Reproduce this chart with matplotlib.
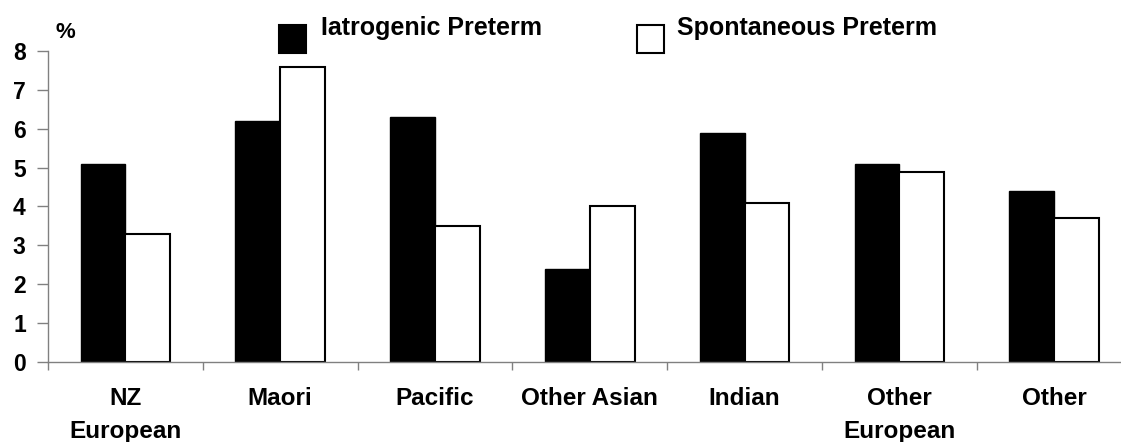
import numpy as np
import matplotlib.pyplot as plt
from matplotlib.patches import Rectangle

plt.rcParams['font.family'] = ['Liberation Sans', 'DejaVu Sans']
plt.rcParams['font.weight'] = 'bold'

groups = ['NZ\nEuropean', 'Maori', 'Pacific', 'Other Asian', 'Indian',
          'Other\nEuropean', 'Other']
iatrogenic = [5.1, 6.2, 6.3, 2.4, 5.9, 5.1, 4.4]
spontaneous = [3.3, 7.6, 3.5, 4.0, 4.1, 4.9, 3.7]
series_names = ['Iatrogenic Preterm', 'Spontaneous Preterm']

W, H = 1121, 442
fig = plt.figure(figsize=(W / 100, H / 100), dpi=100)
# axis runs a little past the right edge of the figure
ax = fig.add_axes([48 / W, 80 / H, 7 * 154.8 / W, 311 / H])

x = np.arange(len(groups))
bw = 0.29
ax.bar(x - bw / 2, iatrogenic, bw, color='black', edgecolor='black', linewidth=1.0)
ax.bar(x + bw / 2, spontaneous, bw, color='white', edgecolor='black', linewidth=1.5)

ax.set_xlim(-0.5, len(groups) - 0.5)
ax.set_ylim(0, 8)
ax.set_yticks(range(0, 9))
ax.set_xticks(x)
ax.set_xticklabels(groups, fontsize=17.5, fontweight='bold', linespacing=1.55)
ax.set_xticks(np.arange(-0.5, len(groups), 1), minor=True)
ax.tick_params(axis='x', which='major', length=0, pad=18)
ax.tick_params(axis='x', which='minor', length=6, width=1, color='#808080')
ax.tick_params(axis='y', length=8, width=1, color='#808080', pad=8, labelsize=16.5)
for t in ax.get_yticklabels():
    t.set_fontweight('bold')

for s in ['top', 'right']:
    ax.spines[s].set_visible(False)
for s in ['left', 'bottom']:
    ax.spines[s].set_color('#808080')
    ax.spines[s].set_linewidth(1)

fig.text(55 / W, 404 / H, '%', fontsize=16, fontweight='bold', va='baseline')

# legend drawn by hand: square key with the label sitting higher
keys = [(279, 'black', 321), (637, 'white', 677)]
for (kx, fc, tx), name in zip(keys, series_names):
    fig.patches.append(Rectangle((kx / W, 389 / H), 27 / W, 28 / H,
                                 transform=fig.transFigure, facecolor=fc,
                                 edgecolor='black', linewidth=1.5))
    fig.text(tx / W, 407 / H, name, fontsize=18, fontweight='bold', va='baseline')

fig.savefig('out.png', dpi=100)
